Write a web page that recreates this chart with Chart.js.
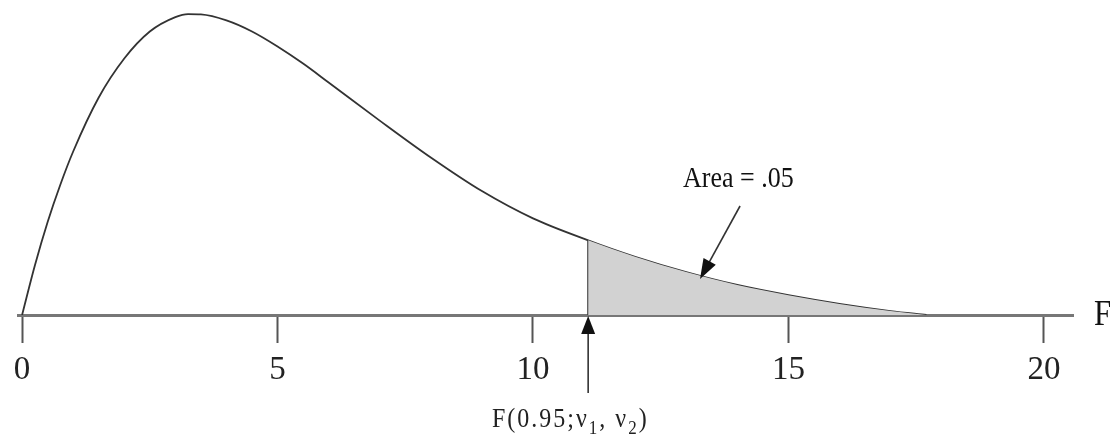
<!DOCTYPE html>
<html>
<head>
<meta charset="utf-8">
<script src="https://cdn.jsdelivr.net/npm/chart.js@4"></script>
<style>
  body { margin: 0; background: #fff; }
  canvas { display: block; }
</style>
</head>
<body>
<canvas id="fChart" width="1110" height="440"></canvas>
<script>
// F-Verteilung, Werte
const fX       = [0, 0.25, 0.5, 0.75, 1, 1.5, 2, 2.5, 3, 3.25, 3.5, 4, 4.5, 5, 5.5, 6, 7, 8, 9, 10, 11.08, 12, 13, 14, 15, 16, 17, 17.7];
const fDensity = [0, .0165, .031, .0435, .0545, .0725, .0855, .0945, .0993, .1003, .1002, .0982, .0945, .0895, .0838, .0775, .0648, .0525, .0413, .0322, .0249, .0194, .0143, .01, .0066, .0037, .0013, 0];
const xTicks   = [0, 5, 10, 15, 20];
const critValue = 11.08;   // F(0.95; v1, v2)
const areaLabel = 'Area = .05';

const curve = fX.map((x, i) => ({ x, y: fDensity[i] }));
const critIdx = fX.indexOf(critValue);
const tail = curve.slice(critIdx);

const serif = '"Liberation Serif", "DejaVu Serif", serif';

function arrow(ctx, x1, y1, x2, y2, len, half) {
  const a = Math.atan2(y2 - y1, x2 - x1);
  ctx.beginPath();
  ctx.moveTo(x1, y1);
  ctx.lineTo(x2 - Math.cos(a) * len * 0.6, y2 - Math.sin(a) * len * 0.6);
  ctx.stroke();
  ctx.beginPath();
  ctx.moveTo(x2, y2);
  ctx.lineTo(x2 - Math.cos(a) * len - Math.sin(a) * half, y2 - Math.sin(a) * len + Math.cos(a) * half);
  ctx.lineTo(x2 - Math.cos(a) * len + Math.sin(a) * half, y2 - Math.sin(a) * len - Math.cos(a) * half);
  ctx.closePath();
  ctx.fill();
}

// Text leicht in die Höhe gezogen, wie in der Vorlage
function tallText(ctx, text, x, y, sy) {
  ctx.save();
  ctx.translate(x, y);
  ctx.scale(1, sy);
  ctx.fillText(text, 0, 0);
  ctx.restore();
}

const labels = {
  id: 'labels',
  afterDraw(chart) {
    const { ctx, scales: { x, y } } = chart;
    ctx.save();
    ctx.strokeStyle = '#333';
    ctx.fillStyle = '#111';
    ctx.lineWidth = 1.6;
    ctx.textAlign = 'left';
    ctx.textBaseline = 'alphabetic';

    // Pfeil zur Fläche
    const tx = x.getPixelForValue(13.27);
    const ty = y.getPixelForValue(0.012);
    arrow(ctx, tx + 40, ty - 73, tx, ty, 20, 7);

    ctx.font = '26px ' + serif;
    tallText(ctx, areaLabel, 683, 187, 1.15);

    // Pfeil zum kritischen Wert
    const cx = x.getPixelForValue(critValue);
    arrow(ctx, cx, 393, cx, y.bottom + 1, 18, 7);

    ctx.fillStyle = '#222';
    ctx.letterSpacing = '2px';
    let px = 492;
    const base = 427;
    const parts = [['F(0.95;', 0], ['ν', 0], ['1', 1], [', ', 0], ['ν', 0], ['2', 1], [')', 0]];
    parts.forEach(([t, sub]) => {
      ctx.font = (sub ? '17px ' : '24px ') + serif;
      tallText(ctx, t, px, base + (sub ? 7 : 0), 1.15);
      px += ctx.measureText(t).width;
    });
    ctx.letterSpacing = '0px';

    // Achsenbeschriftung
    ctx.fillStyle = '#111';
    ctx.font = '31px ' + serif;
    tallText(ctx, 'F', 1094, 325, 1.15);
    ctx.restore();
  }
};

new Chart(document.getElementById('fChart'), {
  type: 'line',
  data: {
    datasets: [
      {
        data: tail,
        fill: 'origin',
        backgroundColor: '#d2d2d2',
        borderWidth: 0,
        pointRadius: 0,
        cubicInterpolationMode: 'monotone'
      },
      {
        data: [{ x: critValue, y: 0 }, { x: critValue, y: fDensity[critIdx] }],
        borderColor: '#444',
        borderWidth: 2,
        pointRadius: 0,
        fill: false
      },
      {
        data: curve,
        borderColor: '#333',
        borderWidth: 1.8,
        pointRadius: 0,
        fill: false,
        cubicInterpolationMode: 'monotone'
      }
    ]
  },
  options: {
    responsive: false,
    animation: false,
    layout: { padding: { left: 18, right: 37, top: 0, bottom: 0 } },
    plugins: {
      legend: { display: false },
      tooltip: { enabled: false }
    },
    scales: {
      x: {
        type: 'linear',
        min: -0.08,
        max: 20.57,
        afterBuildTicks: s => { s.ticks = xTicks.map(v => ({ value: v })); },
        afterFit: s => { s.height = 125; },
        grid: {
          drawOnChartArea: false,
          drawTicks: true,
          tickLength: 28,
          tickColor: '#555',
          tickWidth: 2
        },
        border: { color: '#777', width: 3 },
        ticks: {
          color: '#222',
          padding: 8,
          maxRotation: 0,
          font: { family: serif, size: 33 }
        }
      },
      y: {
        display: false,
        min: 0,
        max: 0.105
      }
    }
  },
  plugins: [labels]
});
</script>
</body>
</html>
